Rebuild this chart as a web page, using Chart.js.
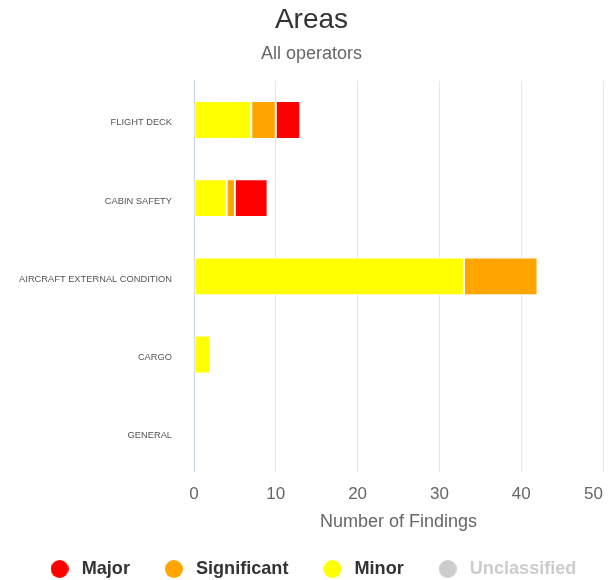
<!DOCTYPE html>
<html lang="en">
<head>
  <meta charset="UTF-8" />
  <title>Areas</title>
  <script src="https://cdn.jsdelivr.net/npm/chart.js@4.4.1/dist/chart.umd.min.js"></script>
  <style>
    html, body { margin: 0; padding: 0; background: #fff; }
    .wrap { width: 615px; height: 580px; }
  </style>
</head>
<body>
  <div class="wrap"><canvas id="areasChart"></canvas></div>

  <script>
  const areas        = ['FLIGHT DECK', 'CABIN SAFETY', 'AIRCRAFT EXTERNAL CONDITION', 'CARGO', 'GENERAL'];
  const minor        = [7, 4, 33, 2, 0];
  const significant  = [3, 1, 9, 0, 0];
  const major        = [3, 4, 0, 0, 0];
  const unclassified = [0, 0, 0, 0, 0];
  const xTicks       = [0, 10, 20, 30, 40, 50];

  Chart.defaults.font.family = "'Liberation Sans', Arial, sans-serif";

  // small round legend markers
  function dot(color) {
    const c = document.createElement('canvas');
    c.width = c.height = 18;
    const g = c.getContext('2d');
    g.fillStyle = color;
    g.beginPath(); g.arc(9, 9, 9, 0, Math.PI * 2); g.fill();
    return c;
  }

  const legendShift = {
    id: 'legendShift',
    // legend sits lower than chart.js puts it by default
    beforeLayout(chart) {
      const lg = chart.legend;
      if (!lg || lg._patched) return;
      const fit = lg.fit;
      lg.fit = function () { fit.call(this); this.height -= 8; };
      lg._patched = true;
    },
    // last x label is pulled inside the plot, right aligned on its grid line
    beforeDraw(chart) {
      const xs = chart.scales.x;
      const items = xs.getLabelItems();
      const last = items[items.length - 1];
      if (last) { last.options.translation[0] = xs.right; last.options.textAlign = 'right'; }
    }
  };

  // stacked left to right: minor, significant, major
  const datasets = [
    { label: 'Unclassified', data: unclassified, backgroundColor: '#cccccc' },
    { label: 'Minor',        data: minor,        backgroundColor: '#ffff00' },
    { label: 'Significant',  data: significant,  backgroundColor: '#ffa500' },
    { label: 'Major',        data: major,        backgroundColor: '#ff0000' }
  ].map(d => Object.assign(d, {
    borderColor: 'rgba(255,255,255,0.8)', borderWidth: 1, borderSkipped: false,
    categoryPercentage: 1, barPercentage: 0.485
  }));

  new Chart(document.getElementById('areasChart'), {
    type: 'bar',
    data: { labels: areas, datasets },
    plugins: [legendShift],
    options: {
      indexAxis: 'y',
      responsive: true,
      maintainAspectRatio: false,
      animation: false,
      layout: { padding: { left: 0, right: -8, top: 0, bottom: 0 } },
      plugins: {
        title: {
          display: true, text: 'Areas', color: '#333',
          font: { size: 28, weight: 'normal' }, padding: { top: 3, bottom: 3 }
        },
        subtitle: {
          display: true, text: 'All operators', color: '#666',
          font: { size: 18 }, padding: { top: 3.6, bottom: 16 }
        },
        legend: {
          position: 'bottom',
          reverse: true,
          labels: {
            usePointStyle: true, pointStyleWidth: 26, boxHeight: 13,
            padding: 31,
            font: { size: 18.1, weight: 'bold' },
            generateLabels(chart) {
              return chart.data.datasets.map((d, i) => ({
                text: d.label,
                fillStyle: d.backgroundColor,
                strokeStyle: d.backgroundColor,
                lineWidth: 0,
                pointStyle: dot(d.backgroundColor),
                hidden: false,
                datasetIndex: i,
                fontColor: d.label === 'Unclassified' ? '#cccccc' : '#333333'
              }));
            }
          }
        },
        tooltip: { enabled: false }
      },
      scales: {
        x: {
          stacked: true, min: 0, max: 50,
          afterBuildTicks: axis => { axis.ticks = xTicks.map(v => ({ value: v })); },
          grid: { color: '#e6e6e6', drawTicks: false },
          border: { display: false },
          ticks: { color: '#666', font: { size: 17 }, padding: 12 },
          title: { display: true, text: 'Number of Findings', color: '#666', font: { size: 18 }, padding: { top: 0, bottom: -3.8 } },
          afterFit: axis => { axis.height = 57; axis.paddingRight = 12; }
        },
        y: {
          stacked: true,
          grid: { display: false, drawTicks: false },
          border: { color: '#c6d2e6', width: 1 },
          ticks: { color: '#555', font: { size: 9.3 }, padding: 22, labelOffset: 3 },
          afterFit: axis => { axis.width = 194; }
        }
      }
    }
  });
  </script>
</body>
</html>
